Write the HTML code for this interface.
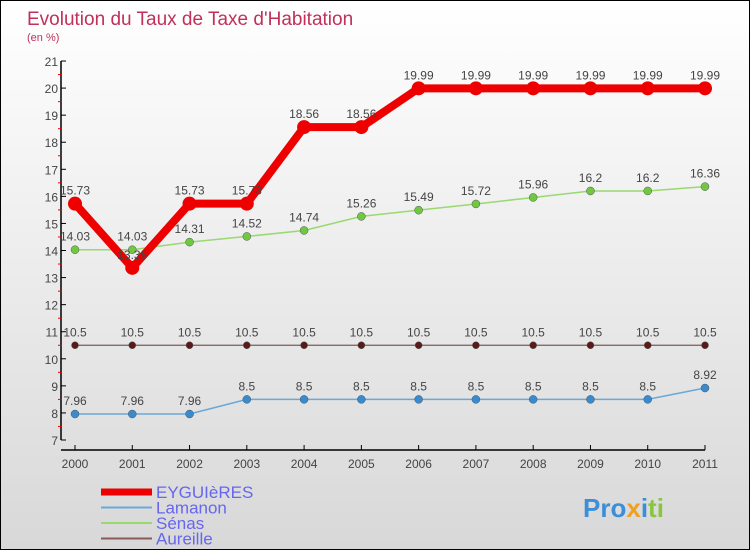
<!DOCTYPE html>
<html><head><meta charset="utf-8"><style>
html,body{margin:0;padding:0}
body{width:750px;height:550px;overflow:hidden;font-family:"Liberation Sans",sans-serif}
#wrap{position:relative;width:748px;height:548px;border:1px solid #000;background:linear-gradient(#ffffff,#d8d8d8)}
</style></head><body>
<div id="wrap">
<svg id="chart" width="748" height="548" viewBox="0 0 748 548" style="position:absolute;left:0;top:0">
<text x="26" y="24" font-size="19" fill="#c0305a">Evolution du Taux de Taxe d'Habitation</text>
<text x="26" y="40" font-size="11" fill="#c0305a">(en %)</text>
<g id="axes"></g><g id="series"></g><g id="legend"></g>
<text x="582" y="516" font-size="26" font-weight="bold" fill="#3a8fd8">Pro<tspan fill="#f0a020">x</tspan><tspan fill="#3a8fd8">i</tspan><tspan fill="#8bc540">ti</tspan></text>
</svg>
</div>
<script>
const years=[2000,2001,2002,2003,2004,2005,2006,2007,2008,2009,2010,2011];
const eyguieres=[15.73,13.36,15.73,15.73,18.56,18.56,19.99,19.99,19.99,19.99,19.99,19.99];
const lamanon=[7.96,7.96,7.96,8.5,8.5,8.5,8.5,8.5,8.5,8.5,8.5,8.92];
const senas=[14.03,14.03,14.31,14.52,14.74,15.26,15.49,15.72,15.96,16.2,16.2,16.36];
const aureille=[10.5,10.5,10.5,10.5,10.5,10.5,10.5,10.5,10.5,10.5,10.5,10.5];
const yTicks=[7,8,9,10,11,12,13,14,15,16,17,18,19,20,21];
const seriesNames=["EYGUIèRES","Lamanon","Sénas","Aureille"];
const NS="http://www.w3.org/2000/svg";
function xS(i){return 74+i*(630/11);}
function yS(v){return 439-(v-7)*27.07;}
function mk(t,a,p){const e=document.createElementNS(NS,t);for(const k in a)e.setAttribute(k,a[k]);p.appendChild(e);return e;}
const ax=document.getElementById('axes');
let l=mk('line',{x1:60,y1:yS(21),x2:60,y2:yS(7),stroke:'#000','stroke-width':1.5},ax);


l=mk('line',{x1:60,y1:449,x2:xS(11),y2:449,stroke:'#000','stroke-width':1.5},ax);


yTicks.forEach(v=>{
 mk('line',{x1:60,y1:yS(v),x2:65,y2:yS(v),stroke:'#000'},ax);
 if(v<21)mk('line',{x1:57,y1:yS(v+0.5),x2:61,y2:yS(v+0.5),stroke:'#e00'},ax);
 const t=mk('text',{x:57,y:yS(v)+5,'font-size':12,fill:'#444','text-anchor':'end'},ax);
 t.textContent=v;
 
 
});
years.forEach((y,i)=>{
 mk('line',{x1:xS(i),y1:449,x2:xS(i),y2:444,stroke:'#000'},ax);
 const t=mk('text',{x:xS(i),y:467,'font-size':12,fill:'#444','text-anchor':'middle'},ax);
 t.textContent=y;
 
 
});
const sg=document.getElementById('series');
function draw(data,color,w,r,dot,name){
 const g=mk('g',{},sg);
 
 
 mk('polyline',{points:data.map((v,i)=>xS(i)+','+yS(v)).join(' '),fill:'none',stroke:color,'stroke-width':w,'stroke-linejoin':'round'},g);
 data.forEach((v,i)=>{
  const c=mk('circle',{cx:xS(i),cy:yS(v),r:r,fill:dot,stroke:color==='#e00'?'none':'#555','stroke-width':0.5},g);
  
  
  const t=mk('text',{x:xS(i),y:yS(v)-9,'font-size':12,fill:'#444','text-anchor':'middle'},g);
  t.textContent=v;
  
  
 });
}
draw(aureille,'#7a5a5a',1.3,3.5,'#5a1a1a','series-aureille');
draw(lamanon,'#6aa8d8',1.5,4,'#3a8ad0','series-lamanon');
draw(senas,'#9ad870',1.5,4,'#70c840','series-senas');
draw(eyguieres,'#e00',8,7,'#e00','series-eyguieres');
const lg=document.getElementById('legend');
const lc=['#e00','#6aa8d8','#9ad870','#8a5a5a'],lw=[7,2,2,2];
seriesNames.forEach((n,i)=>{
 const y=491+i*15.5;
 const g=mk('g',{},lg);
 
 
 mk('line',{x1:100,y1:y,x2:151,y2:y,stroke:lc[i],'stroke-width':lw[i]},g);
 const t=mk('text',{x:155,y:y+6,'font-size':17,fill:'#6666ee'},g);
 t.textContent=n;
});
</script>
</body></html>
